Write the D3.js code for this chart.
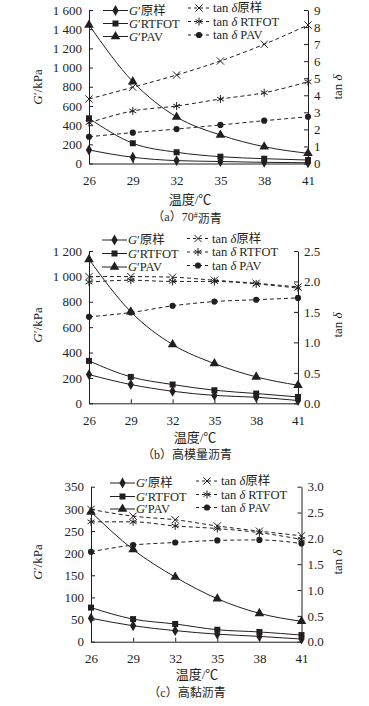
<!DOCTYPE html>
<html>
<head>
<meta charset="utf-8">
<title>G' and tan δ against temperature</title>
<script src="https://d3js.org/d3.v7.min.js"></script>
<style>
  body { margin: 0; background: #fff; }
  svg text { font-family: "Liberation Serif", "Noto Sans CJK SC", serif; fill: #231f20; }
</style>
</head>
<body>
<script>
// shared categories
var temps = [26, 29, 32, 35, 38, 41];
var gNames = ["原样", "RTFOT", "PAV"];
var tanNames = ["原样", " RTFOT", " PAV"];

// (a) 70# asphalt
var aGRaw = [141, 65, 30, 21, 12, 8];
var aGRtfot = [471, 211, 117, 71, 50, 36];
var aGPav = [1444, 853, 485, 297, 175, 106];
var aTanRaw = [3.78, 4.47, 5.19, 6.01, 6.99, 8.12];
var aTanRtfot = [2.39, 3.08, 3.37, 3.78, 4.15, 4.79];
var aTanPav = [1.57, 1.81, 2.02, 2.26, 2.51, 2.74];
var aLeftTicks = [0, 200, 400, 600, 800, 1000, 1200, 1400, 1600];
var aRightTicks = [0, 1, 2, 3, 4, 5, 6, 7, 8, 9];

// (b) high modulus asphalt
var bGRaw = [226, 148, 95, 62, 48, 22];
var bGRtfot = [334, 208, 148, 103, 77, 50];
var bGPav = [1134, 721, 463, 313, 208, 142];
var bTanRaw = [2.08, 2.08, 2.07, 2.02, 1.97, 1.91];
var bTanRtfot = [1.99, 2.02, 2.0, 2.0, 1.96, 1.89];
var bTanPav = [1.42, 1.49, 1.6, 1.67, 1.7, 1.73];
var bLeftTicks = [0, 200, 400, 600, 800, 1000, 1200];
var bRightTicks = [0, 0.5, 1.0, 1.5, 2.0, 2.5];

// (c) high viscosity asphalt
var cGRaw = [53, 36, 25, 17, 12, 6];
var cGRtfot = [77, 51, 40, 27, 22, 15];
var cGPav = [293, 208, 146, 97, 64, 46];
var cTanRaw = [2.56, 2.43, 2.36, 2.24, 2.14, 2.05];
var cTanRtfot = [2.32, 2.32, 2.24, 2.19, 2.11, 1.98];
var cTanPav = [1.74, 1.87, 1.92, 1.96, 1.97, 1.9];
var cLeftTicks = [0, 50, 100, 150, 200, 250, 300, 350];
var cRightTicks = [0, 0.5, 1.0, 1.5, 2.0, 2.5, 3.0];

var W = 369, H = 706;
var ink = "#231f20";
var spaceFmt = d3.formatLocale({decimal: ".", thousands: " ", grouping: [3], currency: ["", ""]}).format(",");

var svg = d3.select("body").append("svg")
    .attr("width", W)
    .attr("height", H);

var gSymbols = [d3.symbolDiamond, d3.symbolSquare, d3.symbolTriangle];
var gSizes = [34, 36, 40];
var tanSymbols = [d3.symbolTimes, d3.symbolAsterisk, d3.symbolCircle];
var tanSizes = [36, 44, 30];

function marker(sel, i, isTan) {
    var sym = isTan ? tanSymbols[i] : gSymbols[i];
    var size = isTan ? tanSizes[i] : gSizes[i];
    var stroked = isTan && i < 2;
    sel.attr("d", d3.symbol().type(sym).size(size))
        .attr("fill", stroked ? "none" : ink)
        .attr("stroke", stroked ? ink : "none")
        .attr("stroke-width", 1);
}

var panels = [
    {gs: [aGRaw, aGRtfot, aGPav], tans: [aTanRaw, aTanRtfot, aTanPav],
     x0: 89, x1: 308, top: 10, bottom: 163.5, gMax: 1600, tMax: 9,
     leftTicks: aLeftTicks, rightTicks: aRightTicks, rightFmt: d3.format("d"),
     legL: {x: 103, rows: [10.5, 23.5, 36.5]}, legR: {x: 188, rows: [8, 21.5, 35]},
     titleY: 87, xTitle: {x: 190, y: 199}, caption: {x: 187, y: 217, tag: "a", text: "70", sup: "#", rest: "沥青"}},
    {gs: [bGRaw, bGRtfot, bGPav], tans: [bTanRaw, bTanRtfot, bTanPav],
     x0: 89, x1: 298, top: 251, bottom: 403.3, gMax: 1200, tMax: 2.5,
     leftTicks: bLeftTicks, rightTicks: bRightTicks, rightFmt: d3.format(".1f"),
     legL: {x: 102, rows: [240, 253.5, 267]}, legR: {x: 187, rows: [238.5, 252, 265.5]},
     titleY: 325, xTitle: {x: 195, y: 437}, caption: {x: 187, y: 455, tag: "b", text: "高模量沥青"}},
    {gs: [cGRaw, cGRtfot, cGPav], tans: [cTanRaw, cTanRtfot, cTanPav],
     x0: 91, x1: 301.5, top: 486.7, bottom: 641.7, gMax: 350, tMax: 3,
     leftTicks: cLeftTicks, rightTicks: cRightTicks, rightFmt: d3.format(".1f"),
     legL: {x: 110, rows: [483, 496.5, 509]}, legR: {x: 196, rows: [481, 494.5, 507.5]},
     titleY: 562, xTitle: {x: 197, y: 674}, caption: {x: 187, y: 693, tag: "c", text: "高黏沥青"}}
];

panels.forEach(function(p) {
    var x = d3.scaleLinear().domain([26, 41]).range([p.x0, p.x1]);
    var yG = d3.scaleLinear().domain([0, p.gMax]).range([p.bottom, p.top]);
    var yT = d3.scaleLinear().domain([0, p.tMax]).range([p.bottom, p.top]);

    var g = svg.append("g");

    // axes: ticks point inward
    var left = g.append("g")
        .attr("transform", "translate(" + p.x0 + ",0)")
        .call(d3.axisLeft(yG).tickValues(p.leftTicks).tickFormat(spaceFmt)
            .tickSizeInner(-4).tickSizeOuter(0).tickPadding(7));
    var right = g.append("g")
        .attr("transform", "translate(" + p.x1 + ",0)")
        .call(d3.axisRight(yT).tickValues(p.rightTicks).tickFormat(p.rightFmt)
            .tickSizeInner(-4).tickSizeOuter(0).tickPadding(6));
    var bottom = g.append("g")
        .attr("transform", "translate(0," + p.bottom + ")")
        .call(d3.axisBottom(x).tickValues(temps).tickFormat(d3.format("d"))
            .tickSizeInner(-4).tickSizeOuter(0).tickPadding(12));
    [left, right, bottom].forEach(function(a) {
        a.attr("font-family", null).attr("font-size", 13);
        a.selectAll("path, line").attr("stroke", ink).attr("stroke-width", 1);
        a.selectAll("text").attr("fill", ink);
    });

    var lineG = d3.line().curve(d3.curveMonotoneX)
        .x(function(d, i) { return x(temps[i]); })
        .y(function(d) { return yG(d); });
    var lineT = d3.line().curve(d3.curveMonotoneX)
        .x(function(d, i) { return x(temps[i]); })
        .y(function(d) { return yT(d); });

    p.tans.forEach(function(vals, i) {
        g.append("path").attr("d", lineT(vals))
            .attr("fill", "none").attr("stroke", ink).attr("stroke-width", 1)
            .attr("stroke-dasharray", "4,3");
        g.selectAll(null).data(vals).enter().append("path")
            .attr("transform", function(d, j) { return "translate(" + x(temps[j]) + "," + yT(d) + ")"; })
            .call(marker, i, true);
    });
    p.gs.forEach(function(vals, i) {
        g.append("path").attr("d", lineG(vals))
            .attr("fill", "none").attr("stroke", ink).attr("stroke-width", 1);
        g.selectAll(null).data(vals).enter().append("path")
            .attr("transform", function(d, j) { return "translate(" + x(temps[j]) + "," + yG(d) + ")"; })
            .call(marker, i, false);
    });

    // legend
    gNames.forEach(function(name, i) {
        var ly = p.legL.rows[i];
        g.append("line").attr("x1", p.legL.x).attr("x2", p.legL.x + 25)
            .attr("y1", ly).attr("y2", ly).attr("stroke", ink);
        g.append("path").attr("transform", "translate(" + (p.legL.x + 12.5) + "," + ly + ")")
            .call(marker, i, false);
        var t = g.append("text").attr("x", p.legL.x + 26).attr("y", ly).attr("dy", "0.35em")
            .attr("font-size", 12.5);
        t.append("tspan").attr("font-style", "italic").text("G");
        t.append("tspan").text("′" + name);
    });
    tanNames.forEach(function(name, i) {
        var ly = p.legR.rows[i];
        g.append("line").attr("x1", p.legR.x).attr("x2", p.legR.x + 22)
            .attr("y1", ly).attr("y2", ly).attr("stroke", ink).attr("stroke-dasharray", "3,3");
        g.append("path").attr("transform", "translate(" + (p.legR.x + 11) + "," + ly + ")")
            .call(marker, i, true);
        var t = g.append("text").attr("x", p.legR.x + 25).attr("y", ly).attr("dy", "0.35em")
            .attr("font-size", 12.5);
        t.append("tspan").text("tan ");
        t.append("tspan").attr("font-style", "italic").text("δ");
        t.append("tspan").text(name);
    });

    // axis titles
    var lt = g.append("text")
        .attr("transform", "translate(" + 42 + "," + p.titleY + ") rotate(-90)")
        .attr("text-anchor", "middle").attr("font-size", 13);
    lt.append("tspan").attr("font-style", "italic").text("G");
    lt.append("tspan").text("′/kPa");
    var rt = g.append("text")
        .attr("transform", "translate(" + 342 + "," + p.titleY + ") rotate(-90)")
        .attr("text-anchor", "middle").attr("font-size", 13);
    rt.append("tspan").text("tan ");
    rt.append("tspan").attr("font-style", "italic").text("δ");

    g.append("text").attr("x", p.xTitle.x).attr("y", p.xTitle.y).attr("dy", "0.35em")
        .attr("text-anchor", "middle").attr("font-size", 13).text("温度/℃");

    var cap = g.append("text").attr("x", p.caption.x).attr("y", p.caption.y).attr("dy", "0.35em")
        .attr("text-anchor", "middle").attr("font-size", 12);
    cap.append("tspan").text("（" + p.caption.tag + "）" + p.caption.text);
    if (p.caption.sup) {
        cap.append("tspan").attr("font-size", 8).attr("dy", "-0.4em").text(p.caption.sup);
        cap.append("tspan").attr("dy", "0.4em").text(p.caption.rest);
    }
});
</script>
</body>
</html>
